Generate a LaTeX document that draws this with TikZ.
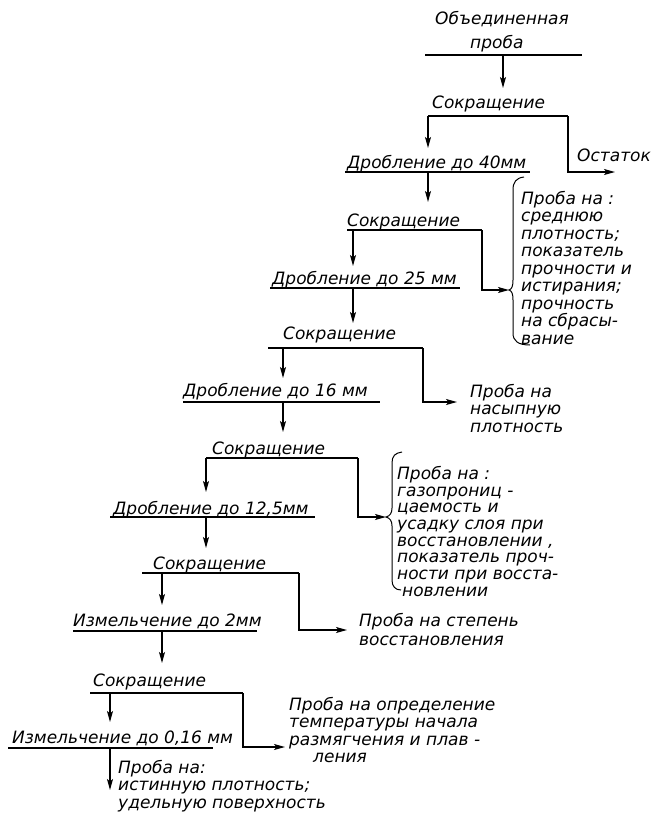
\documentclass[tikz,border=0pt]{standalone}
\usepackage{fontspec}
\setmainfont{DejaVu Sans}
\usetikzlibrary{arrows.meta}
\newcommand\lblfont{\fontsize{17}{17.5}\selectfont\itshape}
\tikzset{
  lbl/.style={font=\lblfont, inner sep=0pt, anchor=base west},
  blk/.style={font=\lblfont, inner sep=0pt, anchor=north west, align=left},
  ln/.style={line width=1.4pt},
  arr/.style={ln, -{Stealth[length=11pt,width=6pt,inset=2.5pt]}},
  brc/.style={line width=1pt}
}
\begin{document}
\begin{tikzpicture}[x=1pt,y=-1pt]
\path[use as bounding box] (0,0) rectangle (669,833);
% texts
\node[lbl] (t0a) at (435,24) {Объединенная};
\node[lbl] (t0b) at (470,48) {проба};
\node[lbl] (s1) at (432,108) {Сокращение};
\node[lbl] (ost) at (577,161) {Остаток};
\node[lbl] (d40) at (347,168) {Дробление до 40мм};
\node[lbl] (s2) at (347,226) {Сокращение};
\node[lbl] (d25) at (272,284) {Дробление до 25 мм};
\node[lbl] (s3) at (283,339) {Сокращение};
\node[lbl] (d16) at (183,396) {Дробление до 16 мм};
\node[lbl] (s4) at (212,454) {Сокращение};
\node[lbl] (d12) at (113,514) {Дробление до 12,5мм};
\node[lbl] (s5) at (153,569) {Сокращение};
\node[lbl] (i2) at (73,626) {Измельчение до 2мм};
\node[lbl] (s6) at (93,686) {Сокращение};
\node[lbl] (i016) at (12,743) {Измельчение до 0,16 мм};
% text blocks
\node[blk] (p1) at (521,191) {Проба на :\\среднюю\\плотность;\\показатель\\прочности и\\истирания;\\прочность\\на сбрасы-\\вание};
\node[blk] (p2) at (470,384) {Проба на\\насыпную\\плотность};
\node[blk, font=\fontsize{17}{16.7}\selectfont\itshape] (p3) at (397,466) {Проба на :\\газопрониц -\\цаемость и\\усадку слоя при\\восстановлении ,\\показатель проч-\\ности при восста-\\\hspace*{5pt}новлении};
\node[blk, font=\fontsize{17}{19}\selectfont\itshape] (p4) at (359,613) {Проба на степень\\восстановления};
\node[blk] (p5) at (289,697) {Проба на определение\\температуры начала\\размягчения и плав -\\\hspace*{24pt}ления};
\node[blk] (p6) at (118,760) {Проба на:\\истинную плотность;\\удельную поверхность};
% bar coordinates
\coordinate (b0l) at (425,55); \coordinate (b0r) at (582,55); \coordinate (b0m) at (503,55); \coordinate (a0) at (503,88);
\coordinate (b1l) at (428,116); \coordinate (b1r) at (568,116); \coordinate (a1) at (428,148); \coordinate (c1) at (568,172); \coordinate (e1) at (615,172);
\coordinate (b2l) at (345,172); \coordinate (b2r) at (530,172); \coordinate (b2m) at (428,172); \coordinate (a2) at (428,202);
\coordinate (b3l) at (347,230); \coordinate (b3r) at (482,230); \coordinate (b3m) at (353,230); \coordinate (a3) at (353,266); \coordinate (c3) at (482,290); \coordinate (e3) at (509,290);
\coordinate (b4l) at (270,288); \coordinate (b4r) at (460,288); \coordinate (b4m) at (353,288); \coordinate (a4) at (353,323);
\coordinate (b5l) at (268,348); \coordinate (b5r) at (423,348); \coordinate (b5m) at (283,348); \coordinate (a5) at (283,378); \coordinate (c5) at (423,402); \coordinate (e5) at (457,402);
\coordinate (b6l) at (183,402); \coordinate (b6r) at (380,402); \coordinate (b6m) at (283,402); \coordinate (a6) at (283,432);
\coordinate (b7l) at (206,458); \coordinate (b7r) at (358,458); \coordinate (a7) at (206,492); \coordinate (c7) at (358,517); \coordinate (e7) at (386,517);
\coordinate (b8l) at (110,517); \coordinate (b8r) at (315,517); \coordinate (b8m) at (206,517); \coordinate (a8) at (206,548);
\coordinate (b9l) at (142,573); \coordinate (b9r) at (299,573); \coordinate (b9m) at (162,573); \coordinate (a9) at (162,605); \coordinate (c9) at (299,630); \coordinate (e9) at (347,630);
\coordinate (b10l) at (73,631); \coordinate (b10r) at (257,631); \coordinate (b10m) at (162,631); \coordinate (a10) at (162,663);
\coordinate (b11l) at (90,693); \coordinate (b11r) at (243,693); \coordinate (b11m) at (110,693); \coordinate (a11) at (110,722); \coordinate (c11) at (243,747); \coordinate (e11) at (285,747);
\coordinate (b12l) at (8,748); \coordinate (b12r) at (213,748); \coordinate (b12m) at (110,748); \coordinate (a12) at (110,790);
% bars
\foreach \i in {0,...,12} \draw[ln] (b\i l) -- (b\i r);
% arrows
\draw[arr] (b0m) -- (a0);
\draw[arr] (b1l) -- (a1);
\draw[arr] (b1r) -- (c1) -- (e1);
\draw[arr] (b2m) -- (a2);
\draw[arr] (b3m) -- (a3);
\draw[arr] (b3r) -- (c3) -- (e3);
\draw[arr] (b4m) -- (a4);
\draw[arr] (b5m) -- (a5);
\draw[arr] (b5r) -- (c5) -- (e5);
\draw[arr] (b6m) -- (a6);
\draw[arr] (b7l) -- (a7);
\draw[arr] (b7r) -- (c7) -- (e7);
\draw[arr] (b8m) -- (a8);
\draw[arr] (b9m) -- (a9);
\draw[arr] (b9r) -- (c9) -- (e9);
\draw[arr] (b10m) -- (a10);
\draw[arr] (b11m) -- (a11);
\draw[arr] (b11r) -- (c11) -- (e11);
\draw[arr] (b12m) -- (a12);
% braces
\draw[brc] (524,177) .. controls (516,178) and (513,182) .. (513,190) -- (513,280) .. controls (513,286) and (512,289) .. (509,290) .. controls (512,291) and (513,294) .. (513,300) -- (513,333) .. controls (513,341) and (518,345) .. (530,345);
\draw[brc] (402,452) .. controls (395,453) and (392,456) .. (392,463) -- (392,508) .. controls (392,513) and (390,516) .. (386,517) .. controls (390,518) and (392,521) .. (392,526) -- (392,580) .. controls (392,586) and (395,590) .. (401,590);
\end{tikzpicture}
\end{document}
